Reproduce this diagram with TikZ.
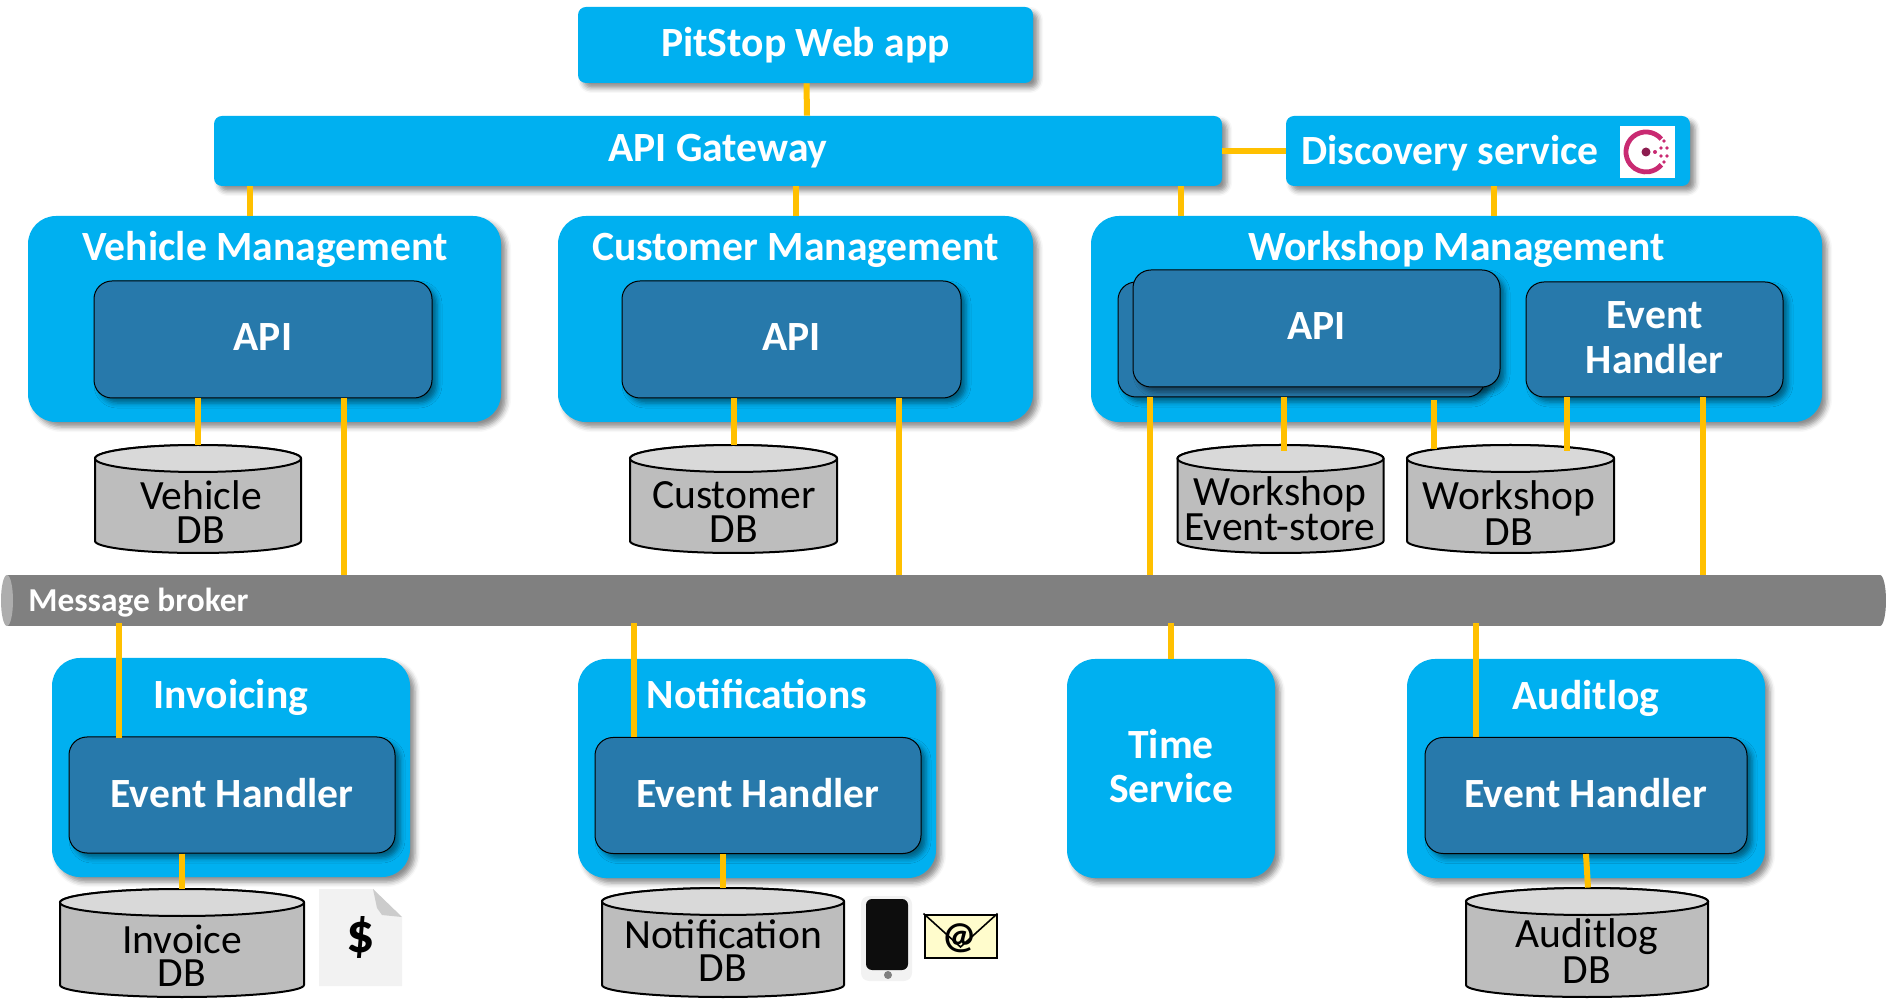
\documentclass[tikz,border=0pt]{standalone}
\usepackage{fontspec}
\setmainfont{Carlito}
\usetikzlibrary{shadows.blur}
\definecolor{svcblue}{HTML}{00B0F0}
\definecolor{innerblue}{HTML}{2779AB}
\definecolor{wireorange}{HTML}{FFC000}
\definecolor{dbbody}{HTML}{BDBDBD}
\definecolor{dbtop}{HTML}{D9D9D9}
\definecolor{consulred}{HTML}{C92A72}
\tikzset{
  softshadow/.style={blur shadow={shadow xshift=2.5pt,shadow yshift=-2.5pt,shadow blur radius=2.5pt,shadow opacity=45}},
  bar/.style={fill=svcblue,rounded corners=4pt,softshadow,inner sep=0pt,text=white,font=\fontsize{20.8}{24}\selectfont\bfseries},
  service/.style={fill=svcblue,rounded corners=14pt,softshadow,inner sep=0pt,text=white,align=center,text depth=2.4pt,font=\fontsize{20.8}{22.2}\selectfont\bfseries},
  inner/.style={draw=black,line width=0.5pt,fill=innerblue,rounded corners=9pt,softshadow,inner sep=0pt,text=white,align=center,text depth=2.2pt,font=\fontsize{20.8}{22.5}\selectfont\bfseries},
  title/.style={inner sep=0pt,text=white,text height=13pt,text depth=4pt,font=\fontsize{20.8}{24}\selectfont\bfseries},
  dbline/.style={draw=black,line width=1pt},
  dbtext/.style={inner sep=0pt,align=center,font=\fontsize{20.8}{16.6}\selectfont},
  wire/.style={draw=wireorange,line width=3pt},
}
% name, centre x, centre y, width, height (all in reference pixels)
\newcommand{\dbcan}[5]{
  \node[inner sep=0pt,minimum width=#4*0.5pt,minimum height=#5*0.5pt] (#1) at (#2,#3) {};
  \draw[dbline,fill=dbbody] ({#2-#4/2},{#3-#5/2+13.5}) -- ({#2-#4/2},{#3+#5/2-12}) arc (180:0:{#4/2} and 12) -- ({#2+#4/2},{#3-#5/2+13.5}) arc (0:-180:{#4/2} and 13.5) -- cycle;
  \draw[dbline,fill=dbtop] (#2,{#3-#5/2+13.5}) ellipse ({#4/2} and 13.5);
}
\begin{document}
\begin{tikzpicture}[x=0.5pt,y=-0.5pt]
  \useasboundingbox (0,0) rectangle (1886,999);
  % top row
  \node[bar,minimum width=227.5pt,minimum height=38pt] (webapp) at (805.5,45) {PitStop Web app};
  \node[bar,minimum width=504pt,minimum height=35pt] (gateway) at (718,151) {API Gateway};
  \node[bar,minimum width=202pt,minimum height=35pt] (discovery) at (1488,151) {};
  \node[title] (discoverytext) at (1450,155.5) {Discovery service};
  % consul icon
  \node[fill=white,inner sep=0pt,minimum width=27.5pt,minimum height=26pt] (consul) at (1647.5,152) {};
  \draw[consulred,line width=2.4pt] (1661.3,139.1) arc (-40:-320:20);
  \fill[consulred!70!black] (1646,152) circle (4.5);
  \fill[consulred] (1655,152) circle (2) (1661,148) circle (1.8) (1667,148) circle (1.8) (1661,156) circle (1.8) (1667,156) circle (1.8) (1664,141) circle (1.8) (1664,162) circle (1.8);
  % management services
  \node[service,minimum width=236.5pt,minimum height=103pt] (vehicle) at (264.5,319) {};
  \node[service,minimum width=237.5pt,minimum height=103pt] (customer) at (795.5,319) {};
  \node[service,minimum width=365.5pt,minimum height=103pt] (workshop) at (1456.5,319) {};
  \node[title] (vehicletitle) at (265,251.5) {Vehicle Management};
  \node[title] (customertitle) at (795.5,251.5) {Customer Management};
  \node[title] (workshoptitle) at (1456.5,251.5) {Workshop Management};
  \node[inner,minimum width=169pt,minimum height=58.5pt] (vehicleapi) at (263,339.5) {API};
  \node[inner,minimum width=169.5pt,minimum height=58.5pt] (customerapi) at (791.5,339.5) {API};
  \node[inner,minimum width=183.5pt,minimum height=57.5pt] (workshopapiback) at (1301.5,339.5) {};
  \node[inner,minimum width=183.5pt,minimum height=58.5pt] (workshopapi) at (1316.5,328.5) {API};
  \node[inner,minimum width=128.5pt,minimum height=57.5pt] (workshophandler) at (1654.5,339.5) {Event\\Handler};
  % databases
  \dbcan{vehicledb}{198}{499}{206}{108}
  \dbcan{customerdb}{733.5}{499}{207}{108}
  \dbcan{eventstore}{1280.5}{499}{206}{108}
  \dbcan{workshopdb}{1510.5}{499}{207}{108}
  \node[dbtext] (vehicledbtext) at (201,512) {Vehicle\\DB};
  \node[dbtext] (customerdbtext) at (734,512) {Customer\\DB};
  \node[dbtext] (eventstoretext) at (1280,509) {Workshop\\Event-store};
  \node[dbtext] (workshopdbtext) at (1509,513) {Workshop\\DB};
  % broker
  \fill[gray] (1880,600.5) ellipse (6 and 25.5);
  \node[fill=gray,inner sep=0pt,minimum width=936.5pt,minimum height=25.5pt] (broker) at (943.5,600.5) {};
  \fill[black!32] (7,600.5) ellipse (6 and 25.5);
  \node[inner sep=0pt,anchor=west,text=white,font=\fontsize{16.7}{19}\selectfont\bfseries] (brokertext) at (28,602.5) {Message broker};
  % event driven services
  \node[service,minimum width=179pt,minimum height=109.5pt] (invoicing) at (231,767.5) {};
  \node[service,minimum width=179pt,minimum height=109.5pt] (notifications) at (757,768.5) {};
  \node[service,minimum width=104pt,minimum height=109.5pt] (timeservice) at (1171,768.5) {Time\\Service};
  \node[service,minimum width=179pt,minimum height=109.5pt] (auditlog) at (1586,768.5) {};
  \node[title] (invoicingtitle) at (231,700) {Invoicing};
  \node[title] (notificationstitle) at (757,700) {Notifications};
  \node[title] (auditlogtitle) at (1586,701) {Auditlog};
  \node[inner,minimum width=163pt,minimum height=58pt] (invoicehandler) at (232,795) {Event Handler};
  \node[inner,minimum width=163pt,minimum height=58pt] (notificationhandler) at (758,795.5) {Event Handler};
  \node[inner,minimum width=161pt,minimum height=58pt] (audithandler) at (1586,795.5) {Event Handler};
  \dbcan{invoicedb}{182}{943}{244}{108}
  \dbcan{notificationdb}{723}{942.5}{242}{109}
  \dbcan{auditdb}{1587}{942.5}{242}{109}
  \node[dbtext] (invoicedbtext) at (182,956) {Invoice\\DB};
  \node[dbtext] (notificationdbtext) at (723,951) {Notification\\DB};
  \node[dbtext] (auditdbtext) at (1587,951) {Auditlog\\DB};
  % invoice icon
  \fill[black!5] (319,889) -- (373,889) -- (402,917) -- (402,986) -- (319,986) -- cycle;
  \fill[black!20] (373,889) -- (402,917) -- (382,915) -- (377,908) -- cycle;
  \node[inner sep=0pt,font=\fontsize{28}{28}\selectfont\bfseries] (dollar) at (361,937) {\$};
  % phone icon
  \fill[black!5,rounded corners=4pt] (861,896) rectangle (912,981);
  \fill[black!95,rounded corners=3pt] (866,899) rectangle (908,970);
  \fill[gray] (888,975) circle (4);
  % mail icon
  \node[draw=black,line width=1pt,fill=yellow!20,inner sep=0pt,minimum width=36pt,minimum height=21.5pt] (mail) at (960.5,936) {};
  \draw[black,line width=0.8pt] (mail.north west) -- (960.5,947) -- (mail.north east);
  \node[inner sep=0pt,font=\fontsize{19}{19}\selectfont\bfseries] (mailat) at (960,938) {@};
  % connectors
  \draw[wire] ([xshift=0.5pt]webapp.south) -- ([xshift=44.5pt]gateway.north);
  \draw[wire] ([xshift=-234pt]gateway.south) -- ([xshift=-7.25pt]vehicle.north);
  \draw[wire] ([xshift=38.75pt]gateway.south) -- (customer.north);
  \draw[wire] ([xshift=231.5pt]gateway.south) -- ([xshift=-137.75pt]workshop.north);
  \draw[wire] (gateway.east) -- (discovery.west);
  \draw[wire] ([xshift=3pt]discovery.south) -- ([xshift=18.75pt]workshop.north);
  \draw[wire] ([xshift=-32.75pt]vehicleapi.south) -- ([xshift=-0.25pt]vehicledb.north);
  \draw[wire] ([xshift=40.5pt]vehicleapi.south) -- ([xshift=-299.75pt]broker.north);
  \draw[wire] ([xshift=-28.75pt]customerapi.south) -- ([xshift=0.25pt]customerdb.north);
  \draw[wire] ([xshift=53.75pt]customerapi.south) -- ([xshift=-22.25pt]broker.north);
  \draw[wire] ([xshift=-75.75pt]workshopapiback.south) -- ([xshift=103.25pt]broker.north);
  \draw[wire] ([xshift=-8.75pt]workshopapiback.south) -- ([xshift=1.75pt,yshift=-3pt]eventstore.north);
  \draw[wire] ([xshift=66.25pt,yshift=-1.5pt]workshopapiback.south) -- ([xshift=-38.25pt,yshift=-2pt]workshopdb.north);
  \draw[wire] ([xshift=-43.75pt]workshophandler.south) -- ([xshift=28.25pt,yshift=-3pt]workshopdb.north);
  \draw[wire] ([xshift=24.25pt]workshophandler.south) -- ([xshift=379.75pt]broker.north);
  \draw[wire] ([xshift=-412.25pt,yshift=1.5pt]broker.south) -- ([xshift=-56.5pt,yshift=-1pt]invoicehandler.north);
  \draw[wire] ([xshift=-25pt]invoicehandler.south) -- (invoicedb.north);
  \draw[wire] ([xshift=-154.75pt,yshift=1.5pt]broker.south) -- ([xshift=-62pt]notificationhandler.north);
  \draw[wire] ([xshift=-17.5pt]notificationhandler.south) -- (notificationdb.north);
  \draw[wire] ([xshift=113.75pt,yshift=1.5pt]broker.south) -- (timeservice.north);
  \draw[wire] ([xshift=266.25pt,yshift=1.5pt]broker.south) -- ([xshift=-55pt]audithandler.north);
  \draw[wire] (audithandler.south) -- ([xshift=0.5pt]auditdb.north);
\end{tikzpicture}
\end{document}
